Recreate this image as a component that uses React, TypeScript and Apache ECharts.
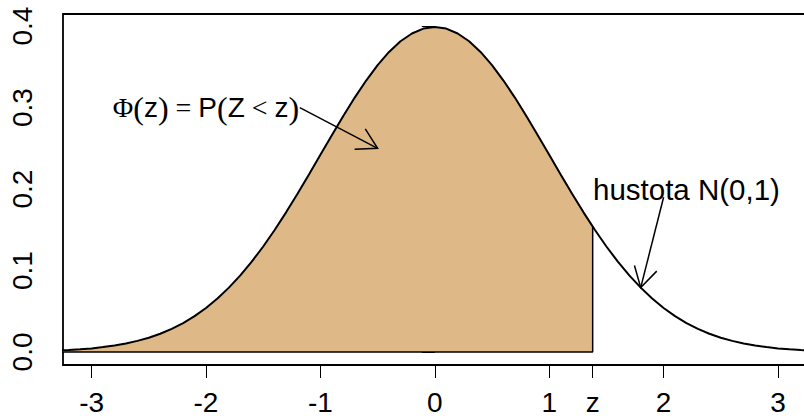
import React, { useEffect, useRef } from "react";
import * as echarts from "echarts";

// Density of N(0,1)
const DENSITY_X = [
  -3.3, -3.2, -3.1, -3.0, -2.9, -2.8, -2.7, -2.6, -2.5, -2.4, -2.3, -2.2, -2.1, -2.0,
  -1.9, -1.8, -1.7, -1.6, -1.5, -1.4, -1.3, -1.2, -1.1, -1.0, -0.9, -0.8, -0.7, -0.6,
  -0.5, -0.4, -0.3, -0.2, -0.1, 0.0, 0.1, 0.2, 0.3, 0.4, 0.5, 0.6, 0.7, 0.8, 0.9, 1.0,
  1.1, 1.2, 1.3, 1.4, 1.5, 1.6, 1.7, 1.8, 1.9, 2.0, 2.1, 2.2, 2.3, 2.4, 2.5, 2.6, 2.7,
  2.8, 2.9, 3.0, 3.1, 3.2, 3.3,
];
const DENSITY_Y = [
  0.0017, 0.0024, 0.0033, 0.0044, 0.006, 0.0079, 0.0104, 0.0136, 0.0175, 0.0224, 0.0283,
  0.0355, 0.044, 0.054, 0.0656, 0.079, 0.094, 0.1109, 0.1295, 0.1497, 0.1714, 0.1942,
  0.2179, 0.242, 0.2661, 0.2897, 0.3123, 0.3332, 0.3521, 0.3683, 0.3814, 0.391, 0.397,
  0.3989, 0.397, 0.391, 0.3814, 0.3683, 0.3521, 0.3332, 0.3123, 0.2897, 0.2661, 0.242,
  0.2179, 0.1942, 0.1714, 0.1497, 0.1295, 0.1109, 0.094, 0.079, 0.0656, 0.054, 0.044,
  0.0355, 0.0283, 0.0224, 0.0175, 0.0136, 0.0104, 0.0079, 0.006, 0.0044, 0.0033, 0.0024,
  0.0017,
];
const Z = 1.38;
const Z_DENSITY = 0.1539;

const X_TICKS = [-3, -2, -1, 0, 1, Z, 2, 3];
const Y_TICKS = [0, 0.1, 0.2, 0.3, 0.4];

// arrows: [x0, y0, x1, y1]
const ARROWS = [
  [-1.18, 0.3, -0.5, 0.25],
  [2.0, 0.19, 1.8, 0.079],
];
const LABEL_POS = [
  [-2.0, 0.3],
  [2.2, 0.2],
];

const X_MIN = -3.25;
const X_MAX = 3.25;
const Y_MIN = -0.016;
const Y_MAX = 0.4149;

const SANS = "'Liberation Sans', Arial, Helvetica, sans-serif";
const SERIF = "'Liberation Serif', 'DejaVu Serif', serif";

export default function App() {
  const ref = useRef<HTMLDivElement>(null);

  useEffect(() => {
    if (!ref.current) return;
    const chart = echarts.init(ref.current, undefined, { renderer: "svg" });

    const curve = DENSITY_X.map((x, i) => [x, DENSITY_Y[i]]);
    const shade = DENSITY_X.map((x, i) => [x, DENSITY_Y[i]]).filter((p) => p[0] < Z);
    shade.push([Z, Z_DENSITY]);
    const border = [
      [DENSITY_X[0], 0],
      [Z, 0],
      [Z, Z_DENSITY],
    ];

    const option: any = {
      animation: false,
      backgroundColor: "#fff",
      grid: {
        left: 63,
        top: 14,
        width: 743.6,
        height: 351,
        show: true,
        borderColor: "#000",
        borderWidth: 1.8,
        backgroundColor: "transparent",
        containLabel: false,
        outerBoundsMode: "none",
      },
      xAxis: {
        type: "value",
        min: X_MIN,
        max: X_MAX,
        axisLine: { show: false, onZero: false },
        splitLine: { show: false },
        axisTick: {
          show: true,
          customValues: X_TICKS,
          length: 13,
          lineStyle: { color: "#000", width: 1 },
        },
        axisLabel: {
          customValues: X_TICKS,
          formatter: (v: number) => (Math.abs(v - Z) < 1e-9 ? "z" : String(v)),
          fontSize: 28,
          fontFamily: SANS,
          color: "#000",
          margin: 23,
        },
      },
      yAxis: {
        type: "value",
        min: Y_MIN,
        max: Y_MAX,
        axisLine: { show: false },
        splitLine: { show: false },
        axisTick: {
          show: true,
          customValues: Y_TICKS,
          length: 13,
          lineStyle: { color: "#000", width: 1 },
        },
        axisLabel: {
          customValues: Y_TICKS,
          formatter: (v: number) => v.toFixed(1),
          rotate: 90,
          fontSize: 28,
          fontFamily: SANS,
          color: "#000",
          margin: 27,
        },
      },
      series: [
        {
          type: "line",
          data: shade,
          symbol: "none",
          silent: true,
          lineStyle: { width: 0, opacity: 0 },
          areaStyle: { color: "#DEB887", opacity: 1, origin: 0 },
          z: 1,
        },
        {
          type: "line",
          data: border,
          symbol: "none",
          silent: true,
          lineStyle: { color: "#000", width: 1.5 },
          z: 2,
        },
        {
          type: "line",
          data: curve,
          symbol: "none",
          silent: true,
          lineStyle: { color: "#000", width: 2 },
          z: 3,
        },
        {
          type: "custom",
          data: ARROWS,
          encode: { x: [0, 2], y: [1, 3] },
          silent: true,
          z: 4,
          renderItem: (params: any, api: any) => {
            const a = api.coord([api.value(0), api.value(1)]);
            const b = api.coord([api.value(2), api.value(3)]);
            const ang = Math.atan2(b[1] - a[1], b[0] - a[0]);
            const L = 23;
            const th = Math.PI / 6;
            const h1 = [b[0] - L * Math.cos(ang - th), b[1] - L * Math.sin(ang - th)];
            const h2 = [b[0] - L * Math.cos(ang + th), b[1] - L * Math.sin(ang + th)];
            return {
              type: "group",
              children: [
                {
                  type: "line",
                  shape: { x1: a[0], y1: a[1], x2: b[0], y2: b[1] },
                  style: { stroke: "#000", lineWidth: 1.5 },
                },
                {
                  type: "polyline",
                  shape: { points: [h1, b, h2] },
                  style: { stroke: "#000", fill: null, lineWidth: 1.5 },
                },
              ],
            };
          },
        },
        {
          type: "custom",
          data: LABEL_POS,
          encode: { x: 0, y: 1 },
          silent: true,
          clip: false,
          z: 5,
          renderItem: (params: any, api: any) => {
            const p = api.coord([api.value(0), api.value(1)]);
            if (params.dataIndex === 0) {
              return {
                type: "text",
                x: p[0],
                y: p[1],
                style: {
                  text:
                    "{s|Φ}{p|(}{n|z}{p|)}{s| = }{n|P}{p|(}{n|Z}{s| < }{n|z}{p|)}",
                  align: "center",
                  verticalAlign: "middle",
                  fill: "#000",
                  rich: {
                    s: { fontFamily: SERIF, fontSize: 28, color: "#000" },
                    p: { fontFamily: SERIF, fontSize: 32, color: "#000" },
                    n: { fontFamily: SANS, fontSize: 28, color: "#000" },
                  },
                },
              };
            }
            return {
              type: "text",
              x: p[0],
              y: p[1],
              style: {
                text: "hustota N(0,1)",
                align: "center",
                verticalAlign: "middle",
                fill: "#000",
                fontFamily: SANS,
                fontSize: 29.5,
              },
            };
          },
        },
      ],
    };

    chart.setOption(option);
    return () => chart.dispose();
  }, []);

  return (
    <div
      ref={ref}
      style={{ position: "fixed", left: 0, top: 0, width: 804, height: 416, background: "#fff" }}
    />
  );
}
